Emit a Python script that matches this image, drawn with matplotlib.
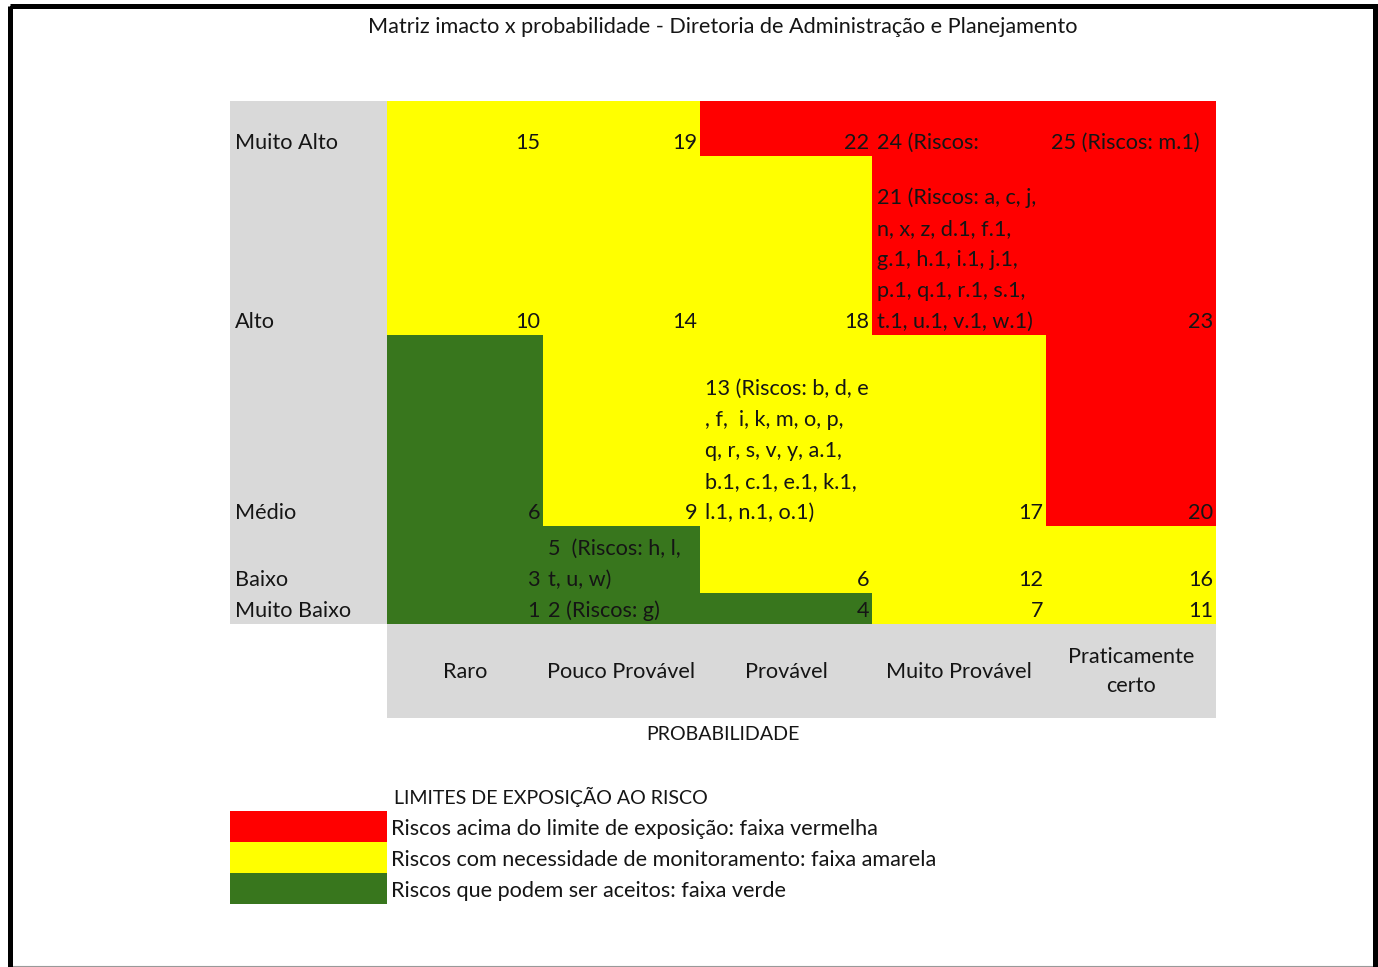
import matplotlib.pyplot as plt
from matplotlib.patches import Rectangle

plt.rcParams['font.family'] = ['Lato', 'DejaVu Sans']

titulo = 'Matriz imacto x probabilidade - Diretoria de Administração e Planejamento'
impacto = ['Muito Alto', 'Alto', 'Médio', 'Baixo', 'Muito Baixo']
probabilidade = ['Raro', 'Pouco Provável', 'Provável', 'Muito Provável', 'Praticamente\ncerto']

# score of each cell (rows = impacto, cols = probabilidade)
pontos = [
    [15, 19, 22, 24, 25],
    [10, 14, 18, 21, 23],
    [6, 9, 13, 17, 20],
    [3, 5, 6, 12, 16],
    [1, 2, 4, 7, 11],
]

# V = vermelha, A = amarela, G = verde
faixa = [
    ['A', 'A', 'V', 'V', 'V'],
    ['A', 'A', 'A', 'V', 'V'],
    ['G', 'A', 'A', 'A', 'V'],
    ['G', 'G', 'A', 'A', 'A'],
    ['G', 'G', 'G', 'A', 'A'],
]

# cells that list risks, wrapped as in the sheet
riscos = {
    (0, 3): ['24 (Riscos:'],
    (0, 4): ['25 (Riscos: m.1)'],
    (1, 3): ['21 (Riscos: a, c, j,', 'n, x, z, d.1, f.1,', 'g.1, h.1, i.1, j.1,',
             'p.1, q.1, r.1, s.1,', 't.1, u.1, v.1, w.1)'],
    (2, 2): ['13 (Riscos: b, d, e', ', f,  i, k, m, o, p,', 'q, r, s, v, y, a.1,',
             'b.1, c.1, e.1, k.1,', 'l.1, n.1, o.1)'],
    (3, 1): ['5  (Riscos: h, l,', 't, u, w)'],
    (4, 1): ['2 (Riscos: g)'],
}

legenda_titulo = 'LIMITES DE EXPOSIÇÃO AO RISCO'
legenda_faixas = ['V', 'A', 'G']
legenda_textos = ['Riscos acima do limite de exposição: faixa vermelha',
                  'Riscos com necessidade de monitoramento: faixa amarela',
                  'Riscos que podem ser aceitos: faixa verde']

cores = {'V': '#ff0000', 'A': '#ffff00', 'G': '#38761d'}
cinza = '#d9d9d9'
txt = '#151515'
fs = 15.6
fs_caps = 14.1  # capitals run narrower in the original font

# sheet layout in pixels
col_x = [230, 387, 543, 700, 872, 1046, 1216]
row_y = [101, 156, 335, 526, 593, 624]
prob_y = 718
linha = 31
leg_y = [811, 842, 873, 904]

fig = plt.figure(figsize=(13.78, 9.67), dpi=100)
ax = fig.add_axes([0, 0, 1, 1])
ax.set_xlim(0, 1378)
ax.set_ylim(967, 0)
ax.axis('off')

# frame
ax.add_patch(Rectangle((9.5, 5.5), 1365, 1000, fill=False, ec='black', lw=3.6, zorder=5))
ax.plot([12, 1372], [965.5, 965.5], color='#999999', lw=0.8, zorder=4)

ax.text(723, 27, titulo, ha='center', va='center', fontsize=fs, color=txt)

# grey header areas
ax.add_patch(Rectangle((col_x[0], row_y[0]), col_x[1] - col_x[0], row_y[-1] - row_y[0],
                       fc=cinza, ec='none'))
ax.add_patch(Rectangle((col_x[1], row_y[-1]), col_x[-1] - col_x[1], prob_y - row_y[-1],
                       fc=cinza, ec='none'))

for r, nome in enumerate(impacto):
    base = row_y[r + 1] - 13
    ax.text(col_x[0] + 5, base, nome, ha='left', va='center', fontsize=fs, color=txt)
    for c in range(len(probabilidade)):
        x0, x1 = col_x[c + 1], col_x[c + 2]
        ax.add_patch(Rectangle((x0, row_y[r]), x1 - x0, row_y[r + 1] - row_y[r],
                               fc=cores[faixa[r][c]], ec='none'))
        if (r, c) in riscos:
            linhas = riscos[(r, c)]
            for k, s in enumerate(linhas):
                ax.text(x0 + 5, base - (len(linhas) - 1 - k) * linha, s,
                        ha='left', va='center', fontsize=fs, color=txt, zorder=3)
        else:
            ax.text(x1 - 3, base, str(pontos[r][c]), ha='right', va='center',
                    fontsize=fs, color=txt, zorder=3)

for c, nome in enumerate(probabilidade):
    xc = (col_x[c + 1] + col_x[c + 2]) / 2
    ax.text(xc, (row_y[-1] + prob_y) / 2 + 0.5, nome, ha='center', va='center',
            fontsize=fs, color=txt, linespacing=1.62)

ax.text((col_x[0] + col_x[-1]) / 2, 735, 'PROBABILIDADE', ha='center', va='center',
        fontsize=fs_caps, color=txt)

# legend
ax.text(394, 797, legenda_titulo, ha='left', va='center', fontsize=fs_caps, color=txt)
for i, (f, s) in enumerate(zip(legenda_faixas, legenda_textos)):
    ax.add_patch(Rectangle((col_x[0], leg_y[i]), col_x[1] - col_x[0], leg_y[i + 1] - leg_y[i],
                           fc=cores[f], ec='none'))
    ax.text(col_x[1] + 4, leg_y[i + 1] - 13, s, ha='left', va='center', fontsize=fs, color=txt)

fig.savefig('out.png', dpi=100, facecolor='white')
